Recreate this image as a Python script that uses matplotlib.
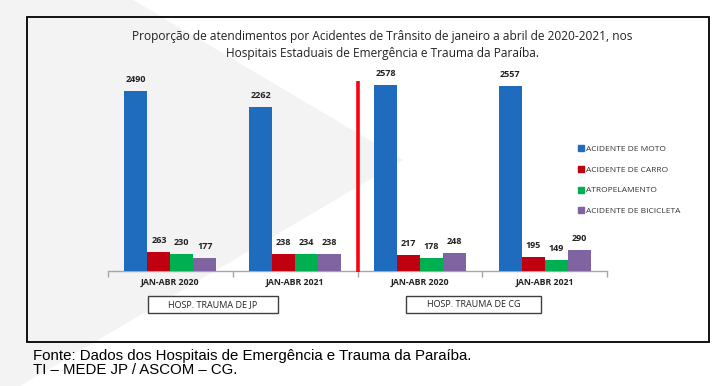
import matplotlib
matplotlib.use("Agg")
import matplotlib.pyplot as plt
from matplotlib.patches import Polygon, Rectangle
from matplotlib.lines import Line2D

categories = ["JAN-ABR 2020", "JAN-ABR 2021", "JAN-ABR 2020", "JAN-ABR 2021"]
hospitals = ["HOSP. TRAUMA DE JP", "HOSP. TRAUMA DE CG"]
series_names = ["ACIDENTE DE MOTO", "ACIDENTE DE CARRO", "ATROPELAMENTO", "ACIDENTE DE BICICLETA"]
moto = [2490, 2262, 2578, 2557]
carro = [263, 238, 217, 195]
atropelamento = [230, 234, 178, 149]
bicicleta = [177, 238, 248, 290]
colors = ["#1F6BBE", "#C00010", "#00B050", "#8064A2"]

title = ("Proporção de atendimentos por Acidentes de Trânsito de janeiro a abril de 2020-2021, nos\n"
         "Hospitais Estaduais de Emergência e Trauma da Paraíba.")
source = "Fonte: Dados dos Hospitais de Emergência e Trauma da Paraíba.\nTI – MEDE JP / ASCOM – CG."

W, H = 712, 386
fig = plt.figure(figsize=(W / 100, H / 100), dpi=100)
fig.patch.set_facecolor("white")

def fx(px):
    return px / W

def fy(py):
    return 1 - py / H

# faint background triangle
tri = Polygon([(fx(0), fy(0)), (fx(133), fy(0)), (fx(403), fy(160)), (fx(20), fy(386)), (fx(0), fy(386))],
              closed=True, transform=fig.transFigure, facecolor="#F3F3F3", edgecolor="none", zorder=-10)
fig.patches.append(tri)

# chart frame
frame = Rectangle((fx(27), fy(342)), fx(709) - fx(27), fy(17) - fy(342), transform=fig.transFigure,
                  facecolor="none", edgecolor="black", linewidth=1.3, zorder=5)
fig.patches.append(frame)

ax = fig.add_axes([fx(108), fy(271), fx(607) - fx(108), fy(54) - fy(271)])
ax.set_facecolor("none")

data = [moto, carro, atropelamento, bicicleta]
w = 0.184
x = list(range(len(categories)))
for i, (vals, c, name) in enumerate(zip(data, colors, series_names)):
    off = (i - 1.5) * w
    xs = [xi + off for xi in x]
    ax.bar(xs, vals, width=w, color=c, label=name, zorder=3)
    for xi, v in zip(xs, vals):
        ax.annotate(str(v), (xi, v), xytext=(0, 5), textcoords="offset points",
                    ha="center", va="bottom", fontsize=6.5, fontweight="bold", color="#222222",
                    family="Open Sans")

ax.set_xlim(-0.5, 3.5)
ax.set_ylim(0, 3000)
for s in ["top", "right", "left"]:
    ax.spines[s].set_visible(False)
ax.spines["bottom"].set_color("#A6A6A6")
ax.spines["bottom"].set_linewidth(1.0)
ax.set_yticks([])
ax.set_xticks([-0.5, 0.5, 1.5, 2.5, 3.5])
ax.set_xticklabels([])
ax.tick_params(axis="x", length=4, color="#A6A6A6", width=1.0)
ax.set_xticks(x, minor=True)
ax.set_xticklabels(categories, minor=True, fontsize=6.3, fontweight="bold", color="#222222",
                   family="Open Sans")
ax.tick_params(axis="x", which="minor", length=0, pad=5)

# red divider
ax.plot([1.5, 1.5], [-20, 2630], color="#FF0010", linewidth=2.6, zorder=4, clip_on=False,
        solid_capstyle="butt")

# hospital boxes
for (x0, x1), label in zip([(148, 278), (406, 541)], hospitals):
    r = Rectangle((fx(x0), fy(313)), fx(x1) - fx(x0), fy(296) - fy(313), transform=fig.transFigure,
                  facecolor="white", edgecolor="#404040", linewidth=1.0)
    fig.patches.append(r)
    fig.text(fx((x0 + x1) / 2), fy(304.5), label, ha="center", va="center", fontsize=6.5,
             color="#222222", family="Open Sans")

# legend
handles = [Line2D([], [], marker="s", linestyle="none", markersize=4.2, color=c) for c in colors]
fig.legend(handles, series_names, loc="upper left", bbox_to_anchor=(fx(574), fy(141)),
           frameon=False, labelspacing=1.55, handlelength=0.6, handletextpad=0.4,
           borderpad=0, prop={"family": "Open Sans", "size": 6.0})
for t in fig.legends[0].get_texts():
    t.set_color("#333333")

fig.text(fx(382), fy(45), title, ha="center", va="center", fontsize=8.6, color="#222222",
         family="Open Sans", linespacing=1.45)

fig.text(fx(33), fy(363), source, ha="left", va="center", fontsize=10.8, color="black",
         family="Liberation Sans", linespacing=1.08)

fig.savefig("out.png", dpi=100)
